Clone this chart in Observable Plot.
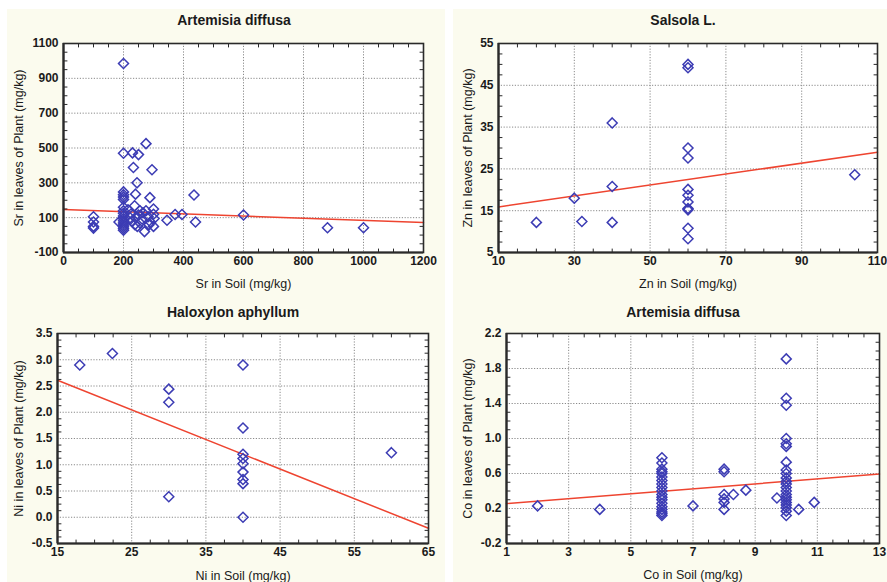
<!DOCTYPE html>
<html>
<head>
<meta charset="utf-8">
<script src="https://cdn.jsdelivr.net/npm/d3@7"></script>
<script src="https://cdn.jsdelivr.net/npm/@observablehq/plot@0.6"></script>
<style>
  html, body { margin: 0; padding: 0; background: #ffffff; }
  #root { position: relative; width: 887px; height: 582px; overflow: hidden; background: #ffffff; font-family: "Liberation Sans", Arial, sans-serif; }
  .bg { position: absolute; background: #fbfbee; }
  .panel { position: absolute; }
  .title { position: absolute; font-weight: bold; font-size: 14px; color: #1a1a1a; transform: translate(-50%, -50%); white-space: nowrap; }
  .panel svg { background: transparent !important; overflow: visible; }
  g[aria-label="x-axis tick label"], g[aria-label="y-axis tick label"] { font-weight: bold; }
</style>
</head>
<body>
<div id="root"></div>
<script>
// ---------- Data ----------
// Panel 1: Artemisia diffusa, Sr
const srSoil = [100,100,100,100,185,
  200,200,200,200,200,200,200,200,200,200,200,200,200,200,200,200,200,
  230,233,250,275,295,245,240,288,237,435,
  275,300,345,372,395,440,600,880,1000,270,300,
  215,222,228,238,250,255,262,282,290,302,265,226,246,285,255,240,300];
const srLeaf = [105,75,50,40,75,
  985,470,248,232,218,205,160,140,125,110,95,82,70,58,48,38,28,
  472,388,462,525,375,300,235,215,168,230,
  140,150,85,118,118,75,115,42,42,20,50,
  145,100,80,60,115,70,92,105,75,95,128,122,50,60,140,100,120];
const srFitX = [0, 1200];
const srFitY = [147, 72];

// Panel 2: Salsola L., Zn
const znSoil = [20,30,32,40,40,40,60,60,60,60,60,60,60,60,60,60,60,104];
const znLeaf = [12.2,18,12.4,36,20.8,12.2,50,49.2,30,27.6,20.1,18.7,17.1,15.5,15.2,10.8,8.3,23.6];
const znFitX = [10, 110];
const znFitY = [15.9, 29.0];

// Panel 3: Haloxylon aphyllum, Ni
const niSoil = [18,22.4,30,30,30,40,40,40,40,40,40,40,40,40,60];
const niLeaf = [2.9,3.12,2.44,2.19,0.39,2.9,1.7,1.2,1.12,1.02,0.86,0.72,0.64,0,1.23];
const niFitX = [15, 65];
const niFitY = [2.61, -0.21];

// Panel 4: Artemisia diffusa, Co
const coSoil = [2,4,7,8.3,8.7,9.7,10.4,10.9,
  6,6,6,6,6,6,6,6,6,6,6,6,6,6,6,6,6,6,6,
  8,8,8,8,8,8,
  10,10,10,10,10,10,10,10,10,10,10,10,10,10,10,10,10,10,10,10,10,10];
const coLeaf = [0.23,0.19,0.23,0.36,0.41,0.32,0.19,0.27,
  0.78,0.72,0.65,0.62,0.60,0.56,0.52,0.48,0.44,0.40,0.36,0.33,0.30,0.26,0.22,0.19,0.16,0.14,0.12,
  0.65,0.62,0.36,0.31,0.27,0.19,
  1.91,1.46,1.38,1.0,0.94,0.91,0.73,0.64,0.60,0.55,0.51,0.48,0.44,0.40,0.36,0.33,0.30,0.27,0.24,0.21,0.17,0.12];
const coFitX = [1, 13];
const coFitY = [0.256, 0.594];

// Tick labels
const srXTicks = [0,200,400,600,800,1000,1200];
const srYTicks = [-100,100,300,500,700,900,1100];
const znXTicks = [10,30,50,70,90,110];
const znYTicks = [5,15,25,35,45,55];
const niXTicks = [15,25,35,45,55,65];
const niYTicks = [-0.5,0,0.5,1,1.5,2,2.5,3,3.5];
const coXTicks = [1,3,5,7,9,11,13];
const coYTicks = [-0.2,0.2,0.6,1.0,1.4,1.8,2.2];

// ---------- Drawing ----------
const zip = (xs, ys) => xs.map((x, i) => ({x, y: ys[i]}));
function minor(ticks, n) {
  const out = [];
  for (let i = 0; i < ticks.length - 1; i++) {
    const a = ticks[i], b = ticks[i + 1];
    for (let k = 1; k < n; k++) out.push(a + (b - a) * k / n);
  }
  return out;
}
const tickShape = {draw(context, l) { context.moveTo(0, 0); context.lineTo(0, -l); }};

const root = document.getElementById("root");
[[7, 9, 438, 573], [453, 9, 434, 573]].forEach(([l, t, w, h]) => {
  const d = document.createElement("div");
  d.className = "bg";
  Object.assign(d.style, {left: l + "px", top: t + "px", width: w + "px", height: h + "px"});
  root.appendChild(d);
});

function panel(cfg) {
  const pts = zip(cfg.xs, cfg.ys);
  const fit = zip(cfg.fx, cfg.fy);
  const xMinor = minor(cfg.xTicks, cfg.xMinorN);
  const yMinor = minor(cfg.yTicks, cfg.yMinorN);
  const tk = {shape: tickShape, length: 3.5, anchor: "start", stroke: "#2a2a2a", strokeWidth: 1};
  const chart = Plot.plot({
    width: cfg.w, height: cfg.h,
    marginLeft: cfg.ml, marginRight: cfg.mr, marginTop: cfg.mt, marginBottom: cfg.mb,
    style: {fontFamily: '"Liberation Sans", Arial, sans-serif', fontSize: "12px", color: "#1a1a1a", background: "transparent"},
    x: {domain: [cfg.xTicks[0], cfg.xTicks[cfg.xTicks.length - 1]]},
    y: {domain: [cfg.yTicks[0], cfg.yTicks[cfg.yTicks.length - 1]]},
    marks: [
      Plot.frame({fill: "white", stroke: null}),
      Plot.gridX(cfg.xTicks, {stroke: "#8a8a8a", strokeOpacity: 1, strokeDasharray: "1.2,1.6"}),
      Plot.gridY(cfg.yTicks, {stroke: "#8a8a8a", strokeOpacity: 1, strokeDasharray: "1.2,1.6"}),
      Plot.line(fit, {x: "x", y: "y", stroke: "#ee4430", strokeWidth: 1.5}),
      Plot.dot(pts, {x: "x", y: "y", symbol: "diamond2", r: 4.5, stroke: "#3c3cb4", strokeWidth: 1.5, fill: "none"}),
      Plot.vector(xMinor, {x: d => d, frameAnchor: "bottom", rotate: 0, ...tk}),
      Plot.vector(xMinor, {x: d => d, frameAnchor: "top", rotate: 180, ...tk}),
      Plot.vector(yMinor, {y: d => d, frameAnchor: "left", rotate: 90, ...tk}),
      Plot.vector(yMinor, {y: d => d, frameAnchor: "right", rotate: -90, ...tk}),
      Plot.axisX(cfg.xTicks, {anchor: "bottom", tickSize: 0, tickPadding: 4, tickFormat: cfg.xFmt, label: null, fontSize: 12}),
      Plot.axisY(cfg.yTicks, {anchor: "left", tickSize: 0, tickPadding: 5, tickFormat: cfg.yFmt, label: null, fontSize: 12}),
      Plot.text([cfg.xLabel], {text: d => d, frameAnchor: "bottom", dy: cfg.xLabelDy, fontSize: 12.5, fill: "#1a1a1a", textAnchor: "middle", lineAnchor: "middle"}),
      Plot.text([cfg.yLabel], {text: d => d, frameAnchor: "left", dx: -cfg.yLabelOffset, rotate: -90, fontSize: 12.5, fill: "#1a1a1a", textAnchor: "middle", lineAnchor: "middle"}),
      Plot.frame({stroke: "#2a2a2a", strokeWidth: 1.6}),
      Plot.ruleX(cfg.xTicks.slice(0, 1), {stroke: "#2a2a2a", strokeWidth: 2.2}),
      Plot.ruleY(cfg.yTicks.slice(0, 1), {stroke: "#2a2a2a", strokeWidth: 2.2})
    ]
  });
  const holder = document.createElement("div");
  holder.className = "panel";
  holder.style.left = cfg.left + "px";
  holder.style.top = cfg.top + "px";
  holder.appendChild(chart);
  root.appendChild(holder);
  const t = document.createElement("div");
  t.className = "title";
  t.textContent = cfg.title;
  t.style.left = cfg.tx + "px";
  t.style.top = cfg.ty + "px";
  root.appendChild(t);
}

const intFmt = d => String(d);
const oneFmt = d => d.toFixed(1);

panel({left: 0, top: 0, w: 443, h: 291, ml: 63, mr: 20, mt: 43, mb: 39,
  xs: srSoil, ys: srLeaf, fx: srFitX, fy: srFitY,
  xTicks: srXTicks, yTicks: srYTicks, xMinorN: 4, yMinorN: 4, xFmt: intFmt, yFmt: intFmt,
  xLabel: "Sr in Soil (mg/kg)", yLabel: "Sr in leaves of Plant (mg/kg)", yLabelOffset: 45, xLabelDy: 31,
  title: "Artemisia diffusa", tx: 234, ty: 20});

panel({left: 443, top: 0, w: 444, h: 291, ml: 55, mr: 10, mt: 43, mb: 39,
  xs: znSoil, ys: znLeaf, fx: znFitX, fy: znFitY,
  xTicks: znXTicks, yTicks: znYTicks, xMinorN: 4, yMinorN: 4, xFmt: intFmt, yFmt: intFmt,
  xLabel: "Zn in Soil (mg/kg)", yLabel: "Zn in leaves of Plant (mg/kg)", yLabelOffset: 31, xLabelDy: 31,
  title: "Salsola L.", tx: 683, ty: 20});

panel({left: 0, top: 291, w: 443, h: 291, ml: 57, mr: 15, mt: 42, mb: 39,
  xs: niSoil, ys: niLeaf, fx: niFitX, fy: niFitY,
  xTicks: niXTicks, yTicks: niYTicks, xMinorN: 4, yMinorN: 4, xFmt: intFmt, yFmt: oneFmt,
  xLabel: "Ni in Soil (mg/kg)", yLabel: "Ni in leaves of Plant (mg/kg)", yLabelOffset: 39, xLabelDy: 32,
  title: "Haloxylon aphyllum", tx: 233, ty: 312});

panel({left: 443, top: 291, w: 444, h: 291, ml: 63, mr: 8, mt: 42, mb: 39,
  xs: coSoil, ys: coLeaf, fx: coFitX, fy: coFitY,
  xTicks: coXTicks, yTicks: coYTicks, xMinorN: 4, yMinorN: 4, xFmt: intFmt, yFmt: oneFmt,
  xLabel: "Co in Soil (mg/kg)", yLabel: "Co in leaves of Plant (mg/kg)", yLabelOffset: 39, xLabelDy: 31,
  title: "Artemisia diffusa", tx: 683, ty: 312});
</script>
</body>
</html>
